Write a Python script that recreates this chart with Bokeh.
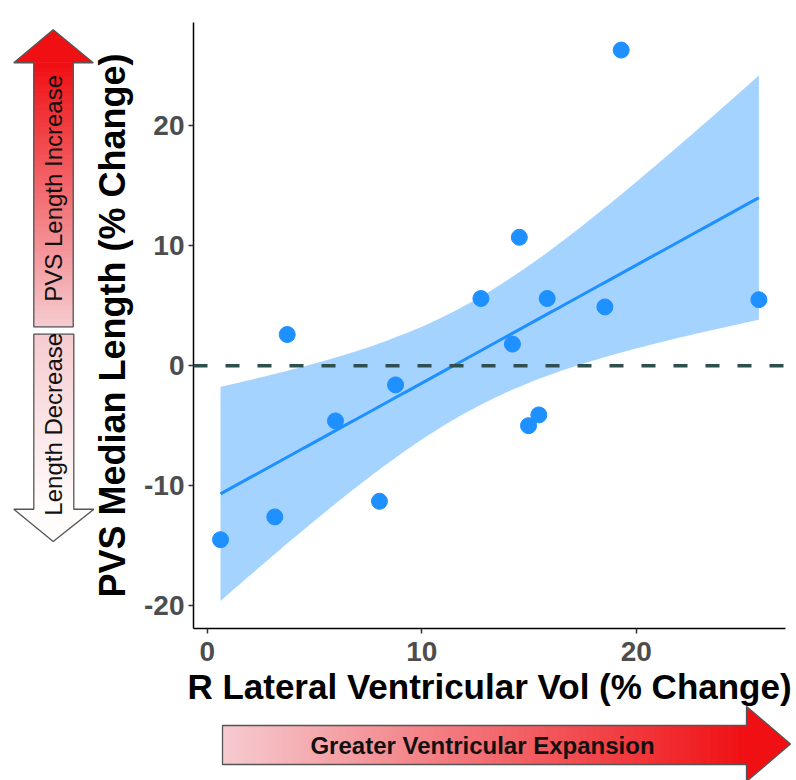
import numpy as np
from bokeh.plotting import figure
from bokeh.models import Range1d, FixedTicker, Span, PrintfTickFormatter
from bokeh.layouts import row, column
from bokeh.embed import file_html
from bokeh.resources import INLINE
from bokeh.core.properties import value

# ---------------- data ----------------
vol_change = [0.62, 3.15, 3.73, 5.98, 8.03, 8.78, 12.76, 14.23, 14.55, 14.98, 15.46, 15.85, 18.54, 19.30, 25.72]
pvs_change = [-14.5, -12.6, 2.6, -4.6, -11.3, -1.6, 5.6, 1.8, 10.7, -5.0, -4.1, 5.6, 4.9, 26.3, 5.5]
x_ticks = [0, 10, 20]
y_ticks = [-20, -10, 0, 10, 20]
x_title = "R Lateral Ventricular Vol (% Change)"
y_title = "PVS Median Length (% Change)"
up_label = "PVS Length Increase"
down_label = "Length Decrease"
right_label = "Greater Ventricular Expansion"

FONT = "Liberation Sans"
BLUE = "#1E90FF"

# ---------------- linear fit with 95% CI (like geom_smooth(method="lm")) ----------------
x = np.array(vol_change)
y = np.array(pvs_change)
n = len(x)
slope, intercept = np.polyfit(x, y, 1)
xs = np.linspace(x.min(), x.max(), 120)
fit = intercept + slope * xs
resid = y - (intercept + slope * x)
s = np.sqrt(np.sum(resid ** 2) / (n - 2))
sxx = np.sum((x - x.mean()) ** 2)
se = s * np.sqrt(1.0 / n + (xs - x.mean()) ** 2 / sxx)
t_crit = 2.160  # t(0.975, df=13)
lo = fit - t_crit * se
hi = fit + t_crit * se

TOP_H = 718     # height of upper row
LEFT_W = 94     # width of the left arrow panel
LOVER = 12      # main plot overlaps the left panel (transparent border)
OVERLAP = 18    # bottom arrow panel overlaps the upper row

# ---------------- main plot ----------------
p = figure(width=796 - LEFT_W + LOVER, height=TOP_H,
           x_range=Range1d(-0.64, 26.96), y_range=Range1d(-21.9, 28.6),
           output_backend="svg", toolbar_location=None,
           min_border_left=99 + LOVER, min_border_right=11, min_border_top=22,
           min_border_bottom=TOP_H - 628)
p.margin = (0, 0, 0, -LOVER)
p.border_fill_alpha = 0
p.outline_line_color = None
p.xgrid.grid_line_color = None
p.ygrid.grid_line_color = None
p.background_fill_color = "white"

p.varea(x=xs, y1=lo, y2=hi, fill_color=BLUE, fill_alpha=0.4)
p.line(xs, fit, line_color=BLUE, line_width=3)
p.add_layout(Span(location=0, dimension="width", line_color="#2F4F4F",
                  line_width=3.5, line_dash="14 18"))
p.scatter(vol_change, pvs_change, size=16, fill_color=BLUE, line_color=BLUE)

p.xaxis.ticker = FixedTicker(ticks=x_ticks)
p.yaxis.ticker = FixedTicker(ticks=y_ticks)
for ax in (p.xaxis, p.yaxis):
    ax.formatter = PrintfTickFormatter(format="%d")
    ax.axis_line_color = "black"
    ax.axis_line_width = 1.5
    ax.major_tick_line_color = "#333333"
    ax.major_tick_line_width = 1.5
    ax.major_tick_out = 5
    ax.major_tick_in = 0
    ax.minor_tick_out = 0
    ax.minor_tick_in = 0
    ax.major_label_text_font = FONT
    ax.major_label_text_font_style = "bold"
    ax.major_label_text_font_size = "28px"
    ax.major_label_text_color = "#4D4D4D"
    ax.axis_label_text_font = FONT
    ax.axis_label_text_font_style = "bold"
    ax.axis_label_text_color = "black"
p.xaxis.axis_label = x_title
p.yaxis.axis_label = y_title
p.xaxis.axis_label_text_font_size = "35px"
p.yaxis.axis_label_text_font_size = "36px"
p.xaxis.major_label_standoff = 8
p.yaxis.major_label_standoff = 4
p.xaxis.axis_label_standoff = 3
p.yaxis.axis_label_standoff = 8


# ---------------- decorative arrows ----------------
def hexcol(c):
    return "#%02x%02x%02x" % tuple(int(round(v)) for v in c)


def grad_cols(c0, c1, k):
    c0 = np.array(c0, float)
    c1 = np.array(c1, float)
    return [hexcol(c0 + (c1 - c0) * t) for t in np.linspace(0, 1, k)]


def bare(fig):
    fig.axis.visible = False
    fig.grid.visible = False
    fig.outline_line_color = None


PINK = (245, 203, 208)
RED = (240, 16, 20)
WHITE = (255, 252, 252)
EDGE = "#555555"

left = figure(width=LEFT_W, height=TOP_H, x_range=Range1d(0, LEFT_W), y_range=Range1d(TOP_H, 0),
              output_backend="svg", toolbar_location=None, min_border=0)
bare(left)

# up arrow (increase)
k = 140
ys = np.linspace(360.7, 47.7, k + 1)
cols = grad_cols(PINK, RED, k)
left.quad(left=33.3, right=72.7, bottom=ys[:-1], top=ys[1:], fill_color=cols, line_color=cols, line_width=1)
left.patch([13.3, 92.7, 52.7], [47.7, 47.7, 8.5], fill_color=hexcol(RED), line_color=None)
left.patch([33.3, 72.7, 72.7, 92.7, 52.7, 13.3, 33.3],
           [360.7, 360.7, 47.7, 47.7, 8.5, 47.7, 47.7],
           fill_alpha=0, line_color=EDGE, line_width=1.3)
left.text([53], [196.5], text=[up_label], angle=np.pi / 2, text_align="center", text_baseline="middle",
          text_font=value(FONT), text_font_size="24px", text_color="#111111")

# down arrow (decrease)
ys2 = np.linspace(369.3, 576.7, k + 1)
cols2 = grad_cols(PINK, WHITE, k)
left.quad(left=33.3, right=73.3, top=ys2[:-1], bottom=ys2[1:], fill_color=cols2, line_color=cols2, line_width=1)
left.patch([13.3, 93.3, 52.7], [576.7, 576.7, 615], fill_color=hexcol(WHITE), line_color=None)
left.patch([33.3, 73.3, 73.3, 93.3, 52.7, 13.3, 33.3],
           [369.3, 369.3, 576.7, 576.7, 615, 576.7, 576.7],
           fill_alpha=0, line_color=EDGE, line_width=1.3)
left.text([53], [476], text=[down_label], angle=np.pi / 2, text_align="center", text_baseline="middle",
          text_font=value(FONT), text_font_size="24px", text_color="#111111")

# right arrow (expansion) -- transparent panel that overlaps the upper row slightly
b_top = TOP_H - OVERLAP
bottom = figure(width=796, height=780 - b_top, x_range=Range1d(0, 796), y_range=Range1d(780, b_top),
                output_backend="svg", toolbar_location=None, min_border=0)
bare(bottom)
bottom.background_fill_alpha = 0
bottom.border_fill_alpha = 0
bottom.margin = (-OVERLAP, 0, 0, 0)
kx = 200
xg = np.linspace(222, 746, kx + 1)
cols3 = grad_cols(PINK, RED, kx)
bottom.quad(left=xg[:-1], right=xg[1:], top=725, bottom=764, fill_color=cols3, line_color=cols3, line_width=1)
bottom.patch([746, 746, 790], [706, 781, 743.5], fill_color=hexcol(RED), line_color=None)
bottom.patch([222, 746, 746, 790, 746, 746, 222],
             [725, 725, 706, 743.5, 781, 764, 764],
             fill_alpha=0, line_color=EDGE, line_width=1.3)
bottom.text([482], [745], text=[right_label], text_align="center", text_baseline="middle",
            text_font=value(FONT), text_font_size="24px", text_font_style="bold", text_color="#111111")

layout = column(row(left, p, spacing=0), bottom, spacing=0)
open("out.html", "w").write(file_html(layout, INLINE))
